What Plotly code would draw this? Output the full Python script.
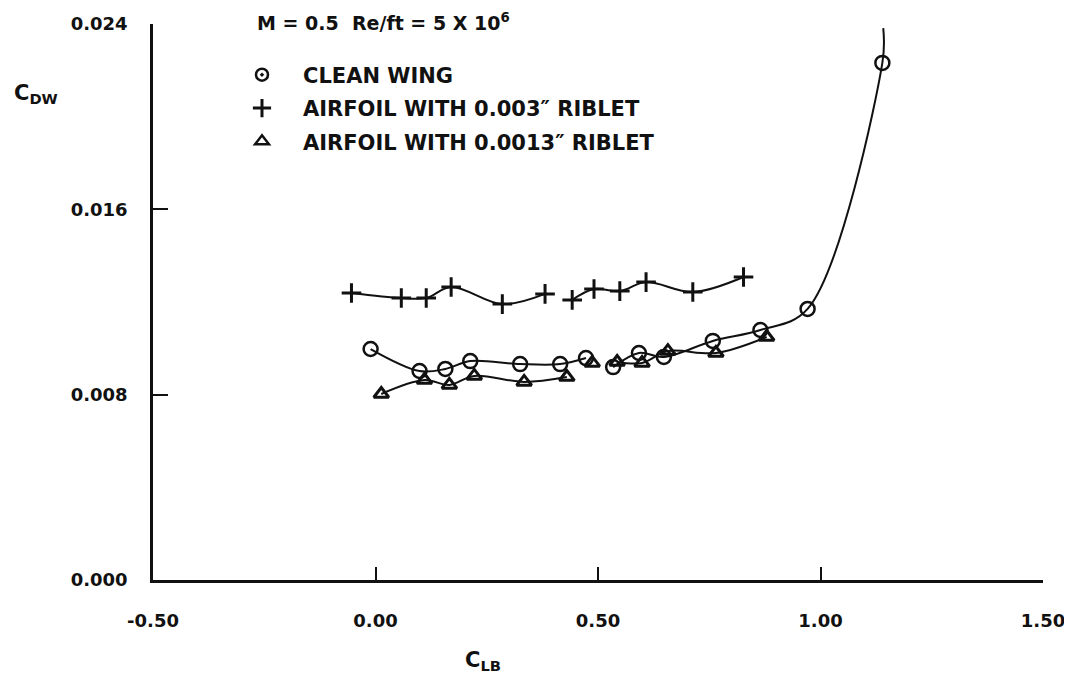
import plotly.graph_objects as go

# ---------------- data ----------------
# Clean wing (open circles), two faired segments
clean_x1 = [-0.011, 0.099, 0.157, 0.213, 0.325, 0.415, 0.473]
clean_y1 = [0.00997, 0.00902, 0.00911, 0.00945, 0.00932, 0.00932, 0.00958]
clean_x2 = [0.534, 0.592, 0.648, 0.758, 0.865, 0.971, 1.139]
clean_y2 = [0.00919, 0.00980, 0.00963, 0.01032, 0.01079, 0.01170, 0.02232]
# faired extension of the clean-wing curve above the last point
clean_fair_x = [1.141]
clean_fair_y = [0.02382]

# Airfoil with 0.003" riblet (plus), two faired segments
rib3_x1 = [-0.054, 0.058, 0.114, 0.170, 0.285, 0.381]
rib3_y1 = [0.01239, 0.01217, 0.01217, 0.01265, 0.01191, 0.01235]
rib3_x2 = [0.442, 0.491, 0.549, 0.608, 0.713, 0.827]
rib3_y2 = [0.01209, 0.01256, 0.01247, 0.01286, 0.01243, 0.01308]

# Airfoil with 0.0013" riblet (triangles)
rib13_x1 = [0.013, 0.110, 0.166, 0.222, 0.334, 0.430]
rib13_y1 = [0.00803, 0.00863, 0.00842, 0.00881, 0.00855, 0.00876]
rib13_x_single = [0.487]
rib13_y_single = [0.00937]
rib13_x2 = [0.543, 0.599, 0.657, 0.765, 0.879]
rib13_y2 = [0.00941, 0.00937, 0.00988, 0.00980, 0.01049]

x_tickvals = [-0.5, 0.0, 0.5, 1.0, 1.5]
x_ticktext = ["-0.50", "0.00", "0.50", "1.00", "1.50"]
y_tickvals = [0.0, 0.008, 0.016, 0.024]
y_ticktext = ["0.000", "0.008", "0.016", "0.024"]

legend_names = ["CLEAN WING", "AIRFOIL WITH 0.003\u2033 RIBLET", "AIRFOIL WITH 0.0013\u2033 RIBLET"]

# ---------------- styling ----------------
INK = "#111111"
FONT = "DejaVu Sans"
LW = 2

circle_m = dict(symbol="circle-open", size=14, color=INK, line=dict(width=2.5, color=INK))
plus_m = dict(symbol="cross-thin-open", size=14, color=INK, line=dict(width=3, color=INK))
tri_m = dict(symbol="triangle-up-open", size=13, color=INK, line=dict(width=3, color=INK))

fig = go.Figure()

def add_curve(xs, ys, marker, mode="lines+markers"):
    fig.add_trace(go.Scatter(
        x=xs, y=ys, mode=mode,
        line=dict(color=INK, width=LW, shape="spline", smoothing=1.0),
        marker=marker, showlegend=False, hoverinfo="x+y",
    ))

# clean wing
add_curve(clean_x1, clean_y1, circle_m)
fig.add_trace(go.Scatter(
    x=clean_x2 + clean_fair_x, y=clean_y2 + clean_fair_y, mode="lines",
    line=dict(color=INK, width=LW, shape="spline", smoothing=1.0),
    showlegend=False, hoverinfo="skip"))
add_curve(clean_x2, clean_y2, circle_m, mode="markers")
# 0.003" riblet
add_curve(rib3_x1, rib3_y1, plus_m)
add_curve(rib3_x2, rib3_y2, plus_m)
# 0.0013" riblet
add_curve(rib13_x1, rib13_y1, tri_m)
add_curve(rib13_x_single, rib13_y_single, tri_m, mode="markers")
add_curve(rib13_x2, rib13_y2, tri_m)

# legend entries (marker only)
legend_markers = [
    dict(symbol="circle-open-dot", size=12, color=INK, line=dict(width=2.5, color=INK)),
    dict(symbol="cross-thin-open", size=13, color=INK, line=dict(width=3, color=INK)),
    dict(symbol="triangle-up-open", size=12, color=INK, line=dict(width=2.5, color=INK)),
]
for i, (name, mk) in enumerate(zip(legend_names, legend_markers)):
    fig.add_trace(go.Scatter(x=[None], y=[None], mode="markers", marker=mk,
                             name=name, showlegend=True, legendgroup=f"g{i}"))

axis_common = dict(
    showline=True, linecolor=INK, linewidth=2.5,
    ticks="inside", tickcolor=INK, tickwidth=2,
    showgrid=False, zeroline=False, mirror=False, automargin=False,
    tickfont=dict(family=FONT, size=18, color=INK, weight="bold"),
)

fig.update_xaxes(range=[-0.5, 1.5], tickmode="array", tickvals=x_tickvals,
                 ticktext=x_ticktext, ticklen=13, ticklabelstandoff=23, **axis_common)
fig.update_yaxes(range=[0, 0.024], tickmode="array", tickvals=y_tickvals,
                 ticktext=y_ticktext, ticklen=15, ticklabelstandoff=19, **axis_common)

fig.update_layout(
    width=1072, height=685,
    margin=dict(l=145, r=37, t=16, b=113),
    paper_bgcolor="white", plot_bgcolor="white",
    font=dict(family=FONT, size=18, color=INK),
    showlegend=True,
    legend=dict(x=0.0764, y=0.945, xanchor="left", yanchor="top",
                font=dict(family=FONT, size=21, color=INK, weight="bold"),
                bgcolor="rgba(0,0,0,0)", borderwidth=0, tracegroupgap=3,
                itemwidth=72),
    annotations=[
        dict(text="M = 0.5  Re/ft = 5 X 10<sup>6</sup>", xref="paper", yref="paper",
             x=0.1146, y=1.003, xanchor="left", yanchor="middle", showarrow=False,
             font=dict(family=FONT, size=19, color=INK, weight="bold")),
        dict(text="C<sub>DW</sub>", xref="paper", yref="paper",
             x=-0.158, y=0.875, xanchor="left", yanchor="middle", showarrow=False,
             font=dict(family=FONT, size=21, color=INK, weight="bold")),
        dict(text="C<sub>LB</sub>", xref="paper", yref="paper",
             x=0.371, y=-0.145, xanchor="center", yanchor="middle", showarrow=False,
             font=dict(family=FONT, size=21, color=INK, weight="bold")),
    ],
)

fig.write_html("out.html")
